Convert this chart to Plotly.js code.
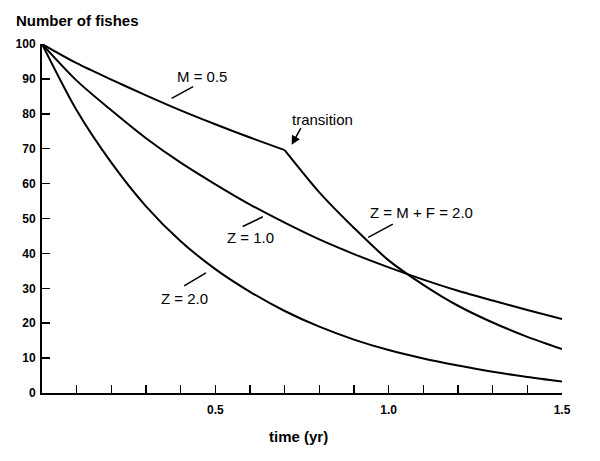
<!DOCTYPE html>
<html>
<head>
<meta charset="utf-8">
<script src="https://cdn.plot.ly/plotly-3.0.1.min.js"></script>
<style>html,body{margin:0;padding:0;background:#fff;}#chart{width:600px;height:461px;}</style>
</head>
<body>
<div id="chart"></div>
<script>
// time (yr)
const timeAll = [0, 0.1, 0.2, 0.3, 0.4, 0.5, 0.6, 0.7, 0.8, 0.9, 1.0, 1.1, 1.2, 1.3, 1.4, 1.5];
// Z = 2.0
const z2Values = [100, 81, 66, 53.5, 43.5, 35.5, 29, 23.5, 19, 15.3, 12.3, 9.9, 7.9, 6.1, 4.6, 3.3];
// Z = 1.0
const z1Values = [100, 89.5, 81, 73, 66, 59.8, 54, 48.8, 44, 39.8, 36, 32.5, 29.3, 26.5, 23.8, 21.2];
// M = 0.5 before transition
const timeBefore = [0, 0.1, 0.2, 0.3, 0.4, 0.5, 0.6, 0.7];
const mValues = [100, 94.5, 89.8, 85.3, 81, 77, 73.2, 69.6];
// Z = M + F = 2.0 after transition
const timeAfter = [0.7, 0.8, 0.9, 1.0, 1.1, 1.2, 1.3, 1.4, 1.5];
const zmfValues = [69.6, 57.5, 47.3, 38.0, 31.0, 25.0, 20.2, 16.1, 12.6];

const xTickVals = [0.1, 0.2, 0.3, 0.4, 0.5, 0.6, 0.7, 0.8, 0.9, 1.0, 1.1, 1.2, 1.3, 1.4, 1.5];
const xTickText = ['', '', '', '', '0.5', '', '', '', '', '1.0', '', '', '', '', '1.5'];
const yTickVals = [0, 10, 20, 30, 40, 50, 60, 70, 80, 90, 100];
const yTickText = ['0', '10', '20', '30', '40', '50', '60', '70', '80', '90', '100'];

const lineStyle = {color: '#000', width: 2, shape: 'spline', smoothing: 0.8};
const traces = [
  {x: timeAll, y: z2Values, mode: 'lines', line: lineStyle, hoverinfo: 'skip', cliponaxis: false},
  {x: timeAll, y: z1Values, mode: 'lines', line: lineStyle, hoverinfo: 'skip', cliponaxis: false},
  {x: timeBefore, y: mValues, mode: 'lines', line: lineStyle, hoverinfo: 'skip', cliponaxis: false},
  {x: timeAfter, y: zmfValues, mode: 'lines', line: lineStyle, hoverinfo: 'skip', cliponaxis: false}
];

const fam = 'Liberation Sans, Arial, sans-serif';
const labFont = {family: fam, size: 15, color: '#000'};
function leader(x0, y0, x1, y1) {
  return {type: 'line', xref: 'x', yref: 'y', x0: x0, y0: y0, x1: x1, y1: y1,
          line: {color: '#000', width: 1.5}};
}

const layout = {
  width: 600, height: 461,
  margin: {l: 42, r: 38, t: 44, b: 68},
  paper_bgcolor: '#fff', plot_bgcolor: '#fff',
  showlegend: false,
  xaxis: {
    range: [0, 1.5], showgrid: false, zeroline: false,
    showline: true, linecolor: '#000', linewidth: 2,
    ticks: 'inside', ticklen: 8, tickwidth: 1.5, tickcolor: '#000',
    tickmode: 'array', tickvals: xTickVals, ticktext: xTickText,
    ticklabelstandoff: 5,
    tickfont: {family: fam, size: 12, color: '#000', weight: 'bold'}
  },
  yaxis: {
    range: [0, 100], showgrid: false, zeroline: false,
    showline: true, linecolor: '#000', linewidth: 2,
    ticks: 'inside', ticklen: 8, tickwidth: 1.5, tickcolor: '#000',
    tickmode: 'array', tickvals: yTickVals, ticktext: yTickText,
    ticklabelstandoff: 2,
    tickfont: {family: fam, size: 12, color: '#000', weight: 'bold'}
  },
  annotations: [
    {xref: 'paper', yref: 'paper', x: -0.054, y: 1.066, xanchor: 'left', yanchor: 'middle',
     text: 'Number of fishes', showarrow: false,
     font: {family: fam, size: 15, color: '#000', weight: 'bold'}},
    {xref: 'paper', yref: 'paper', x: 0.494, y: -0.126, xanchor: 'center', yanchor: 'middle',
     text: 'time (yr)', showarrow: false,
     font: {family: fam, size: 15, color: '#000', weight: 'bold'}},
    {x: 0.461, y: 90.7, text: 'M = 0.5', showarrow: false, font: labFont},
    {x: 0.81, y: 78.5, text: 'transition', showarrow: false, font: labFont},
    {x: 0.720, y: 71.1, ax: 0.749, ay: 76.3, axref: 'x', ayref: 'y', text: '',
     showarrow: true, arrowhead: 2, arrowsize: 1.2, arrowwidth: 1.5, arrowcolor: '#000'},
    {x: 0.601, y: 44.6, text: 'Z = 1.0', showarrow: false, font: labFont},
    {x: 1.095, y: 51.6, text: 'Z = M + F = 2.0', showarrow: false, font: labFont},
    {x: 0.412, y: 27.2, text: 'Z = 2.0', showarrow: false, font: labFont}
  ],
  shapes: [
    leader(0.374, 84.4, 0.436, 87.8),
    leader(0.579, 47.7, 0.637, 50.5),
    leader(0.941, 44.6, 1.012, 48.4),
    leader(0.410, 30.7, 0.473, 34.4)
  ]
};

Plotly.newPlot('chart', traces, layout, {displayModeBar: false, staticPlot: true});
</script>
</body>
</html>
